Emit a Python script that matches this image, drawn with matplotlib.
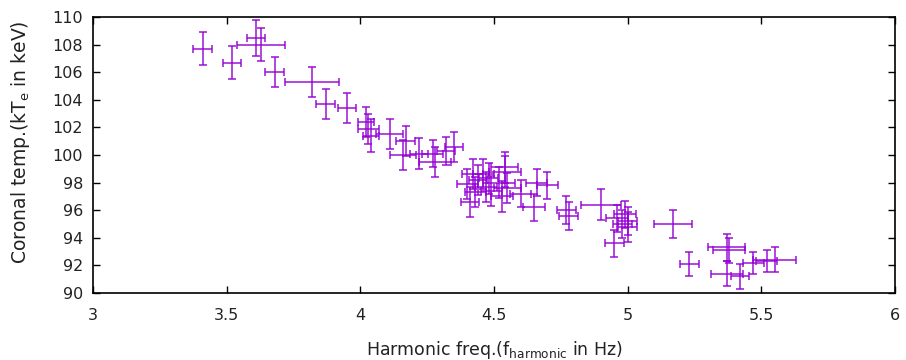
import matplotlib
matplotlib.use("Agg")
import matplotlib.pyplot as plt
import numpy as np

# harmonic frequency (Hz) and its error
freq = [3.41, 3.52, 3.61, 3.63, 3.68, 3.82, 3.87, 3.95,
        4.02, 4.03, 4.04, 4.11, 4.17, 4.16, 4.22, 4.27, 4.28, 4.32, 4.35,
        4.40, 4.42, 4.44, 4.43, 4.46, 4.47, 4.48, 4.49, 4.41, 4.52, 4.54,
        4.53, 4.55, 4.54, 4.60, 4.65, 4.66, 4.70, 4.77, 4.78, 4.90,
        4.95, 4.96, 4.98, 4.99, 5.00, 5.00, 5.17, 5.23, 5.37, 5.38,
        5.37, 5.42, 5.47, 5.52, 5.55]
freq_err = [0.035, 0.035, 0.035, 0.09, 0.035, 0.10, 0.035, 0.035,
            0.03, 0.04, 0.03, 0.05, 0.035, 0.05, 0.035, 0.04, 0.06, 0.035, 0.035,
            0.04, 0.04, 0.035, 0.04, 0.04, 0.04, 0.035, 0.04, 0.035, 0.06, 0.06,
            0.04, 0.05, 0.05, 0.04, 0.04, 0.04, 0.04, 0.035, 0.035, 0.075,
            0.035, 0.04, 0.035, 0.04, 0.035, 0.035, 0.07, 0.035, 0.07, 0.06,
            0.06, 0.035, 0.04, 0.04, 0.08]
# coronal temperature (keV) and its error
temp = [107.7, 106.7, 108.5, 108.0, 106.0, 105.3, 103.7, 103.4,
        102.4, 101.9, 101.4, 101.5, 101.0, 100.0, 100.1, 100.1, 99.5, 100.3, 100.6,
        97.9, 98.6, 98.2, 97.3, 98.6, 97.7, 98.3, 97.4, 96.6, 98.0, 98.8,
        97.0, 97.6, 99.1, 97.2, 96.2, 98.0, 97.8, 96.0, 95.6, 96.4,
        93.6, 95.4, 95.0, 95.7, 95.2, 94.8, 95.0, 92.1, 93.3, 93.1,
        91.4, 91.2, 92.2, 92.3, 92.4]
temp_err = [1.2, 1.2, 1.3, 1.2, 1.1, 1.1, 1.1, 1.1,
            1.1, 1.1, 1.2, 1.1, 1.1, 1.1, 1.1, 1.0, 1.1, 1.0, 1.1,
            1.1, 1.1, 1.1, 1.1, 1.1, 1.1, 1.1, 1.1, 1.1, 1.1, 1.1,
            1.1, 1.1, 1.1, 1.0, 1.0, 1.0, 1.0, 1.0, 1.0, 1.1,
            1.0, 1.0, 1.0, 1.0, 1.0, 1.1, 1.0, 0.9, 1.0, 0.9,
            0.9, 0.9, 0.8, 0.8, 0.9]

plt.rcParams['mathtext.default'] = 'regular'
txt = '#222222'

fig = plt.figure(figsize=(9.06, 3.6), dpi=100)
ax = fig.add_axes([0.1026, 0.1861, 0.8853, 0.7667])

ax.errorbar(freq, temp, xerr=freq_err, yerr=temp_err, fmt='none',
            ecolor='#9400d3', elinewidth=1.2, capsize=3, capthick=1.2, alpha=0.85)

ax.set_xlim(3, 6)
ax.set_ylim(90, 110)
ax.set_xticks(np.arange(3, 6.01, 0.5))
ax.set_xticklabels(['3', '3.5', '4', '4.5', '5', '5.5', '6'])
ax.set_yticks(np.arange(90, 110.1, 2))
ax.tick_params(direction='in', top=True, right=True, length=5, width=1,
               labelsize=11.5, colors='black', labelcolor=txt)
ax.tick_params(axis='x', pad=11)
ax.tick_params(axis='y', pad=7)
for s in ax.spines.values():
    s.set_linewidth(1.2)

ax.set_xlabel('Harmonic freq.(f$_{harmonic}$ in Hz)', fontsize=12.5, color=txt, va='center')
ax.set_ylabel('Coronal temp.(kT$_{e}$ in keV)', fontsize=13.5, color=txt, va='center')
ax.xaxis.set_label_coords(0.5, -0.205)
ax.yaxis.set_label_coords(-0.09, 0.545)

fig.savefig('out.png', dpi=100)
